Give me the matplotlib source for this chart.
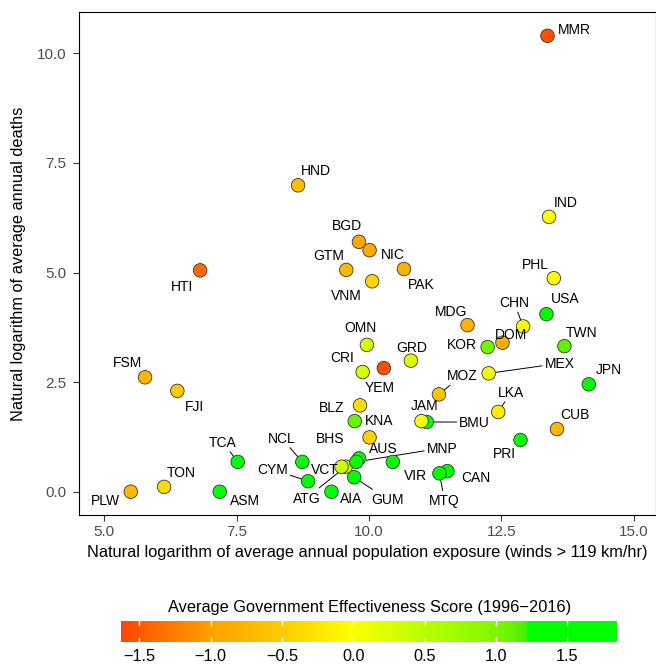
import numpy as np
import matplotlib
matplotlib.use("Agg")
import matplotlib.pyplot as plt
from matplotlib.colors import LinearSegmentedColormap, Normalize
from matplotlib.cm import ScalarMappable
from matplotlib.ticker import FuncFormatter

plt.rcParams["font.family"] = ["Liberation Sans", "DejaVu Sans"]

# data (draw order matters where circles overlap)
countries = ["PLW", "TON", "ASM", "FSM", "FJI", "HTI", "TCA", "HND", "NCL", "CYM",
             "AIA", "ATG", "VCT", "AUS", "MNP", "GUM", "KNA", "BLZ", "BHS", "CRI",
             "YEM", "OMN", "GRD", "GTM", "BGD", "NIC", "VNM", "PAK", "VIR", "BMU",
             "JAM", "MOZ", "CAN", "MTQ", "MDG", "KOR", "DOM", "MEX", "LKA", "PRI",
             "CHN", "USA", "MMR", "IND", "PHL", "CUB", "TWN", "JPN"]
log_exposure = [5.50, 6.13, 7.18, 5.77, 6.38, 6.81, 7.52, 8.66, 8.74, 8.85,
                9.29, 9.56, 9.48, 9.81, 9.76, 9.72, 9.73, 9.83, 10.01, 9.88,
                10.28, 9.96, 10.79, 9.57, 9.81, 10.01, 10.06, 10.66, 10.45, 11.09,
                10.99, 11.32, 11.48, 11.33, 11.86, 12.24, 12.52, 12.26, 12.44, 12.86,
                12.91, 13.35, 13.37, 13.40, 13.49, 13.55, 13.69, 14.15]
log_deaths = [0.00, 0.11, 0.00, 2.61, 2.30, 5.05, 0.68, 6.99, 0.68, 0.24,
              0.00, 0.57, 0.57, 0.76, 0.68, 0.33, 1.61, 1.97, 1.24, 2.73,
              2.82, 3.35, 2.99, 5.06, 5.70, 5.51, 4.80, 5.08, 0.68, 1.59,
              1.61, 2.22, 0.47, 0.42, 3.80, 3.30, 3.40, 2.70, 1.82, 1.18,
              3.77, 4.05, 10.40, 6.27, 4.87, 1.43, 3.32, 2.45]
gov_effect = [-0.75, -0.35, 1.30, -0.75, -0.50, -1.35, 1.30, -0.65, 1.30, 1.50,
              1.30, 0.40, 0.35, 1.70, 1.30, 1.30, 1.10, -0.30, -0.45, 0.30,
              -1.55, 0.30, 0.25, -0.75, -0.90, -0.90, -0.40, -0.80, 1.30, 1.30,
              0.10, -0.60, 1.80, 1.40, -0.80, 1.05, -0.85, 0.15, -0.20, 1.30,
              0.05, 1.55, -1.55, -0.02, 0.00, -0.75, 1.15, 1.45]

# label nudges in pixels (right, down) from the point, like ggrepel placed them
nudge = {
    "MMR": (27, -7), "IND": (17, -15), "PHL": (-18, -14), "HND": (18, -15),
    "HTI": (-18, 16), "BGD": (-12, -17), "NIC": (23, 4), "GTM": (-18, -15),
    "PAK": (17, 15), "VNM": (-26, 14), "MDG": (-16, -14), "CHN": (-9, -24),
    "USA": (19, -16), "DOM": (9, -9), "KOR": (-26, -3), "TWN": (17, -14),
    "OMN": (-6, -18), "GRD": (1, -14), "CRI": (-20, -15), "YEM": (-4, 19),
    "MEX": (71, -10), "MOZ": (23, -19), "JPN": (20, -15), "LKA": (13, -20),
    "CUB": (18, -15), "PRI": (-16, 13), "FSM": (-18, -15), "FJI": (17, 15),
    "BLZ": (-28, 2), "KNA": (24, -1), "JAM": (3, -16), "BMU": (48, 0),
    "BHS": (-39, 1), "AUS": (24, -10), "MNP": (86, -14), "NCL": (-21, -24),
    "CYM": (-36, -12), "VCT": (-17, 2), "ATG": (-39, 31), "AIA": (20, 6),
    "GUM": (33, 22), "VIR": (23, 13), "MTQ": (5, 27), "CAN": (28, 6),
    "TCA": (-15, -20), "PLW": (-25, 8), "TON": (17, -15), "ASM": (25, 8),
}
with_segment = {"CHN", "MEX", "MOZ", "LKA", "BMU", "MNP", "NCL", "CYM",
                "ATG", "GUM", "MTQ", "TCA"}

# colour scale
vmin, vmax = -1.628, 1.85
stops = [(-1.628, "#ff4500"), (-1.0, "#ffa000"), (-0.5, "#ffcc00"), (0.0, "#ffff00"),
         (0.5, "#b8ff00"), (1.0, "#80f800"), (1.2, "#50f000"), (1.23, "#00ff00"),
         (1.85, "#00ff00")]
cmap = LinearSegmentedColormap.from_list(
    "gov", [((v - vmin) / (vmax - vmin), c) for v, c in stops], N=512)
norm = Normalize(vmin, vmax)

fig = plt.figure(figsize=(6.56, 6.65), dpi=100)
ax = fig.add_axes([78.7 / 656, 1 - 515 / 665, 576.8 / 656, 503.3 / 665])

ax.scatter(log_exposure, log_deaths, c=gov_effect, cmap=cmap, norm=norm, s=95,
           edgecolors="#333333", linewidths=0.6, zorder=3)

label_size = 10
for c, x, y in zip(countries, log_exposure, log_deaths):
    dx, dy = nudge[c]
    if c in with_segment:
        ax.annotate(c, (x, y), xytext=(dx, -dy), textcoords="offset pixels",
                    ha="center", va="center", fontsize=label_size, color="none",
                    arrowprops=dict(arrowstyle="-", color="black", lw=0.7,
                                    shrinkA=0, shrinkB=0), zorder=1)
    ax.annotate(c, (x, y), xytext=(dx, -dy - 5), textcoords="offset pixels",
                ha="center", va="baseline", fontsize=label_size, color="black", zorder=5)

ax.set_xlim(4.517, 15.41)
ax.set_ylim(-0.531, 10.95)
ax.set_xticks([5, 7.5, 10, 12.5, 15])
ax.set_yticks([0, 2.5, 5, 7.5, 10])
fmt = FuncFormatter(lambda v, p: f"{v:.1f}".replace("-", "\u2212"))
ax.xaxis.set_major_formatter(fmt)
ax.yaxis.set_major_formatter(fmt)
ax.tick_params(length=4.5, width=0.8, color="#333333", labelsize=11,
               labelcolor="#4d4d4d", pad=4.5)
ax.tick_params(axis="x", pad=3)
for s in ax.spines.values():
    s.set_linewidth(0.8)
    s.set_color("black")

ax.set_xlabel("Natural logarithm of average annual population exposure (winds > 119 km/hr)",
              fontsize=11.8)
ax.set_ylabel("Natural logarithm of average annual deaths", fontsize=11.8)
ax.xaxis.set_label_coords(0.5, -(545 - 515) / 503.3)
ax.yaxis.set_label_coords((26 - 78.7) / 576.8, 0.5)

# colour bar legend
cax = fig.add_axes([121 / 656, 1 - 641.7 / 665, 496.3 / 656, 20.7 / 665])
cb = fig.colorbar(ScalarMappable(norm=norm, cmap=cmap), cax=cax, orientation="horizontal")
cb.outline.set_visible(False)
cb_ticks = [-1.5, -1.0, -0.5, 0.0, 0.5, 1.0, 1.5]
cb.set_ticks(cb_ticks)
cb.ax.xaxis.set_major_formatter(fmt)
cb.ax.tick_params(length=0, labelsize=11.7, pad=5.5, labelcolor="black")
for t in cb_ticks:
    cax.axvline(t, 0, 0.2, color="white", lw=1)
    cax.axvline(t, 0.8, 1, color="white", lw=1)
fig.text(370 / 656, 1 - 612 / 665, "Average Government Effectiveness Score (1996\u22122016)",
         ha="center", va="baseline", fontsize=11.8)

fig.savefig("out.png", dpi=100)
